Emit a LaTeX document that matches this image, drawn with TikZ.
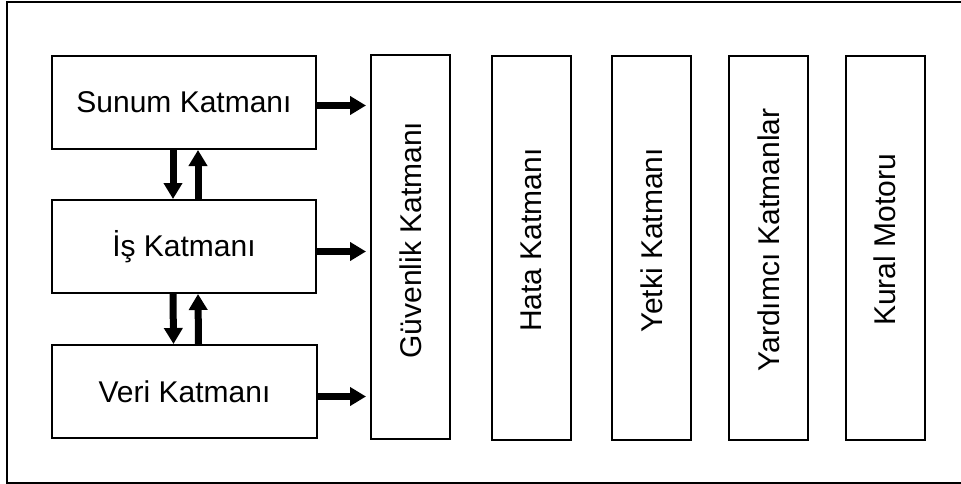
\documentclass[tikz,border=0pt]{standalone}
\usepackage{fontspec}
\setmainfont{Liberation Sans}
\usetikzlibrary{arrows.meta}
\begin{document}
\begin{tikzpicture}[x=1pt,y=-1pt,
  layer/.style={draw=black, line width=2pt, minimum width=264pt, minimum height=93pt,
    inner sep=0pt, font=\fontsize{30}{36}\selectfont},
  column/.style={draw=black, line width=2pt, minimum width=79pt, minimum height=383pt, inner sep=0pt},
  coltext/.style={rotate=90, inner sep=0pt, font=\fontsize{30}{36}\selectfont},
  flow/.style={line width=7pt, -{Triangle[length=16pt,width=18pt]}},
  sideflow/.style={flow, shorten >=4pt}
]
\useasboundingbox (0,0) rectangle (961,484);
% outer frame
\draw[line width=2pt] (7,2) rectangle (963,483);

% stacked layers
\node[layer] (sunum) at (184,102.5) {Sunum Katmanı};
\node[layer] (is)    at (184,246.5) {İş Katmanı};
\node[layer, minimum width=265pt] (veri) at (184.5,391.5) {Veri Katmanı};

% vertical cross-cutting layers
\node[column] (guv)   at (410.5,247) {};
\node[column] (hata)  at (531,248) {};
\node[column] (yetki) at (651.5,248) {};
\node[column] (yard)  at (768.5,248) {};
\node[column] (kural) at (885,248) {};

\node[coltext] (guvT)   at (guv |- 0,240)   {Güvenlik Katmanı};
\node[coltext] (hataT)  at (hata |- 0,240)  {Hata Katmanı};
\node[coltext] (yetkiT) at (yetki |- 0,240) {Yetki Katmanı};
\node[coltext] (yardT)  at (yard |- 0,240)  {Yardımcı Katmanlar};
\node[coltext] (kuralT) at (kural |- 0,240) {Kural Motoru};

% flows between stacked layers
\draw[flow] ([xshift=-11pt]sunum.south) -- ([xshift=-11pt]is.north);
\draw[flow] ([xshift=14pt]is.north) -- ([xshift=14pt]sunum.south);
\draw[flow] ([xshift=-11pt]is.south) -- ([xshift=-11pt]veri.north);
\draw[flow] ([xshift=14pt]veri.north) -- ([xshift=14pt]is.south);

% flows into the security layer
\draw[sideflow] ([yshift=-3pt]sunum.east) -- ([yshift=-3pt]sunum.east -| guv.west);
\draw[sideflow] ([yshift=-5pt]is.east) -- ([yshift=-5pt]is.east -| guv.west);
\draw[sideflow] ([yshift=-5pt]veri.east) -- ([yshift=-5pt]veri.east -| guv.west);
\end{tikzpicture}
\end{document}
